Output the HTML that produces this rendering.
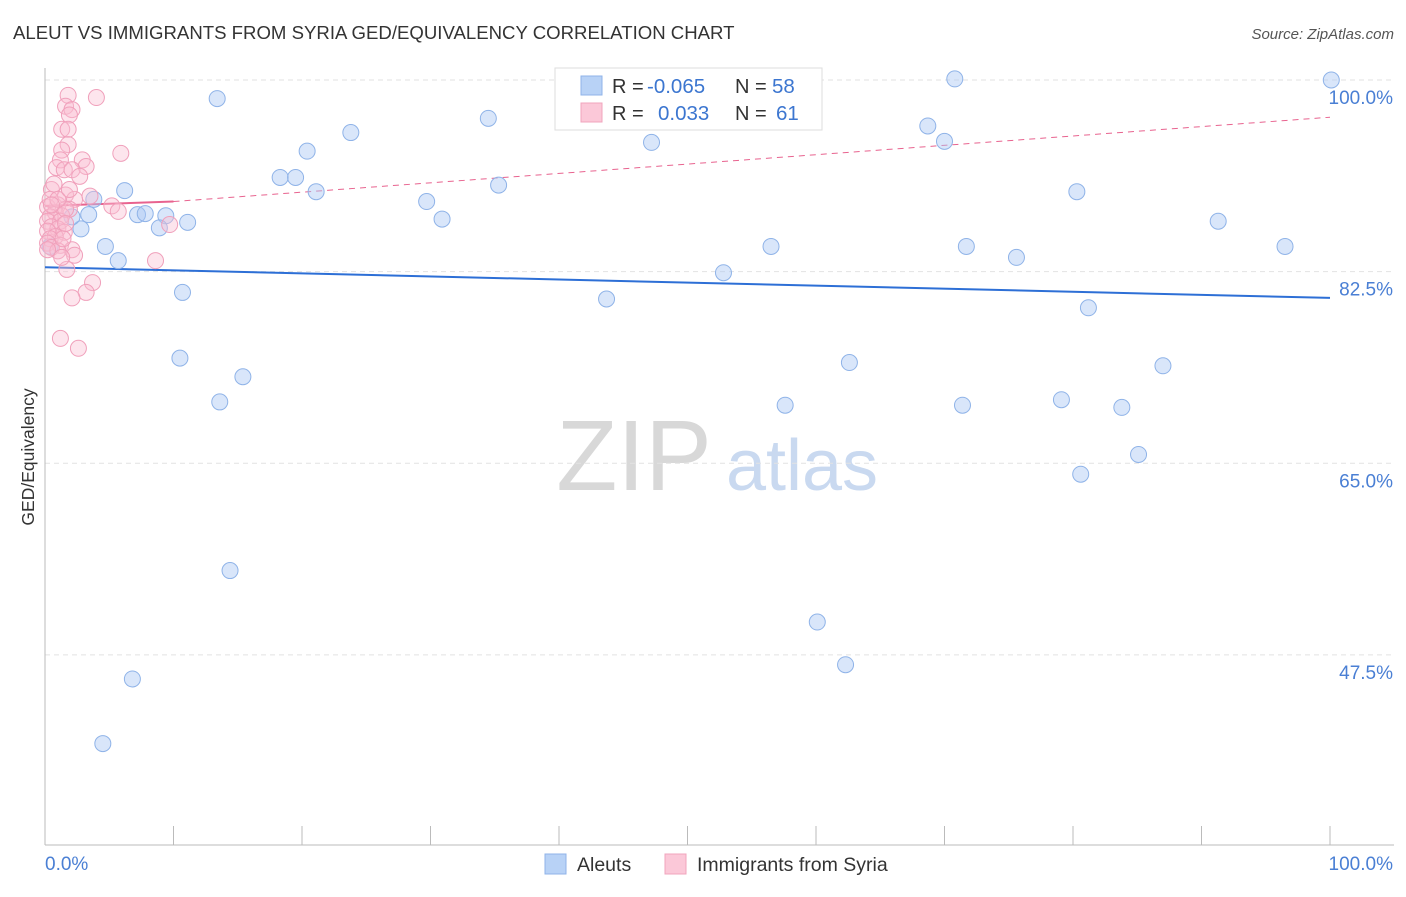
<!DOCTYPE html>
<html><head><meta charset="utf-8"><style>
body{margin:0;background:#fff;font-family:"Liberation Sans",sans-serif;}
svg text{font-family:"Liberation Sans",sans-serif;}
</style></head><body>
<svg id="chart" width="1406" height="892" viewBox="0 0 1406 892" xmlns="http://www.w3.org/2000/svg">
<text x="13" y="39" font-size="18.6" fill="#333">ALEUT VS IMMIGRANTS FROM SYRIA GED/EQUIVALENCY CORRELATION CHART</text>
<text x="1394" y="39" font-size="15" fill="#555" text-anchor="end" font-style="italic">Source: ZipAtlas.com</text>
<g>
<text x="634" y="490" font-size="100" fill="#d8d8d8" text-anchor="middle" font-family="Liberation Serif">ZIP</text>
<text x="802" y="490" font-size="72" fill="#c9d9f0" text-anchor="middle">atlas</text>
</g>
<g id="grid"></g>
<g id="axes"></g>
<text transform="translate(34,457) rotate(-90)" font-size="17.5" fill="#333" text-anchor="middle">GED/Equivalency</text>
<text x="45" y="870" font-size="19" fill="#4a7fd4">0.0%</text>
<text x="1393" y="870" font-size="19" fill="#4a7fd4" text-anchor="end">100.0%</text>
<g id="lines"></g>
<g id="points"></g>
<g>
<rect x="555" y="68" width="267" height="62" fill="#fff" stroke="#ddd"/>
<rect x="581" y="76" width="21" height="19" fill="#b8d2f6" stroke="#8fb3e8"/>
<text x="612" y="93" font-size="20" fill="#333">R =</text>
<text x="647" y="93" font-size="20.5" fill="#3c76d0">-0.065</text>
<text x="735" y="93" font-size="20" fill="#333">N =</text>
<text x="772" y="93" font-size="20.5" fill="#3c76d0">58</text>
<rect x="581" y="103" width="21" height="19" fill="#fbc8d8" stroke="#f0a4bd"/>
<text x="612" y="120" font-size="20" fill="#333">R =</text>
<text x="658" y="120" font-size="20.5" fill="#3c76d0">0.033</text>
<text x="735" y="120" font-size="20" fill="#333">N =</text>
<text x="776" y="120" font-size="20.5" fill="#3c76d0">61</text>
</g>
<g>
<rect x="545" y="854" width="21" height="20" fill="#b8d2f6" stroke="#8fb3e8"/>
<text x="577" y="871" font-size="19.5" fill="#333">Aleuts</text>
<rect x="665" y="854" width="21" height="20" fill="#fbc8d8" stroke="#f0a4bd"/>
<text x="697" y="871" font-size="19.5" fill="#333">Immigrants from Syria</text>
</g>
</svg>
<script>
const yTicks=[100,82.5,65,47.5];
const xTickCount=10;
const blueX=[13.4,23.8,34.5,20.4,18.3,19.5,21.1,6.2,3.8,3.4,7.2,7.8,9.4,11.1,8.9,2.8,4.7,5.7,2.1,0.4,29.7,30.9,35.3,47.2,55.6,70.8,68.7,70.0,100.1,80.3,91.3,96.5,56.5,71.7,75.6,52.8,43.7,10.7,81.2,10.5,15.4,13.6,62.6,87.0,57.6,71.4,79.1,83.8,85.1,80.6,14.4,60.1,62.3,6.8,4.5];
const blueY=[98.3,95.2,96.5,93.5,91.1,91.1,89.8,89.9,89.1,87.7,87.7,87.8,87.6,87.0,86.5,86.4,84.8,83.5,87.5,84.8,88.9,87.3,90.4,94.3,100,100.1,95.8,94.4,100,89.8,87.1,84.8,84.8,84.8,83.8,82.4,80.0,80.6,79.2,74.6,72.9,70.6,74.2,73.9,70.3,70.3,70.8,70.1,65.8,64.0,55.2,50.5,46.6,45.3,39.4];
const pinkX=[4.0,1.8,1.6,2.1,1.9,1.3,1.8,5.9,1.8,1.3,2.9,1.2,0.9,3.2,1.5,2.1,2.7,0.5,1.6,3.5,2.3,1.0,0.2,5.2,5.7,1.9,0.8,1.3,0.4,0.2,1.2,0.5,9.7,1.0,0.2,1.5,0.8,0.4,0.2,1.2,0.5,2.1,8.6,1.7,3.7,3.2,2.1,1.2,2.6,0.4,0.7,1.6,2.3,1.0,1.4,0.2,1.0,1.9,0.5,1.6,1.3];
const pinkY=[98.4,98.6,97.6,97.3,96.8,95.5,95.5,93.3,94.1,93.6,92.7,92.7,92.0,92.1,91.8,91.8,91.2,90.0,89.5,89.4,89.1,88.6,88.4,88.5,88.0,88.2,87.9,87.6,87.5,87.1,87.1,86.6,86.8,86.4,86.2,86.1,85.7,85.5,85.1,84.9,84.7,84.5,83.5,82.7,81.5,80.6,80.1,76.4,75.5,89.1,90.5,88.2,84.0,84.4,85.5,84.5,89.1,90.0,88.6,86.9,83.8];
const blueTrend=[82.9,80.1];
const pinkTrend=[88.5,88.9,96.6];
const NS="http://www.w3.org/2000/svg";
const X=v=>45+v*12.85, Y=v=>80+(100-v)*10.95;
function mk(t,a,p){const e=document.createElementNS(NS,t);for(const k in a)e.setAttribute(k,a[k]);document.getElementById(p).appendChild(e);return e;}
yTicks.forEach(t=>{
 const l=mk('line',{x1:45,x2:1394,y1:Y(t),y2:Y(t),stroke:'#e2e2e2','stroke-dasharray':'5,4'},'grid');
 
 
 const tx=mk('text',{x:1393,y:Y(t)+24,'font-size':19,fill:'#4a7fd4','text-anchor':'end'},'grid');
 tx.textContent=t.toFixed(1)+'%';
 
 
});
const ya=mk('line',{x1:45,x2:45,y1:68,y2:845,stroke:'#bbb'},'axes');


const xa=mk('line',{x1:45,x2:1394,y1:845,y2:845,stroke:'#bbb'},'axes');


for(let i=0;i<=xTickCount;i++){const t=mk('line',{x1:X(i*10),x2:X(i*10),y1:826,y2:845,stroke:'#bbb'},'axes');
 
 }
blueX.forEach((x,i)=>{const c=mk('circle',{cx:X(x),cy:Y(blueY[i]),r:8,fill:'rgba(170,200,244,0.45)',stroke:'#8fb3e8','stroke-width':1},'points');
 
 });
pinkX.forEach((x,i)=>{const c=mk('circle',{cx:X(x),cy:Y(pinkY[i]),r:8,fill:'rgba(250,190,210,0.4)',stroke:'#f0a0bb','stroke-width':1},'points');
 
 });
const bl=mk('line',{x1:X(0),y1:Y(blueTrend[0]),x2:X(100),y2:Y(blueTrend[1]),stroke:'#2d6fd6','stroke-width':2},'lines');


const ps=mk('line',{x1:X(0),y1:Y(pinkTrend[0]),x2:X(10),y2:Y(pinkTrend[1]),stroke:'#e8638f','stroke-width':2},'lines');


const pd=mk('line',{x1:X(10),y1:Y(pinkTrend[1]),x2:X(100),y2:Y(pinkTrend[2]),stroke:'#e8638f','stroke-width':1,'stroke-dasharray':'6,5'},'lines');


</script>
</body></html>
